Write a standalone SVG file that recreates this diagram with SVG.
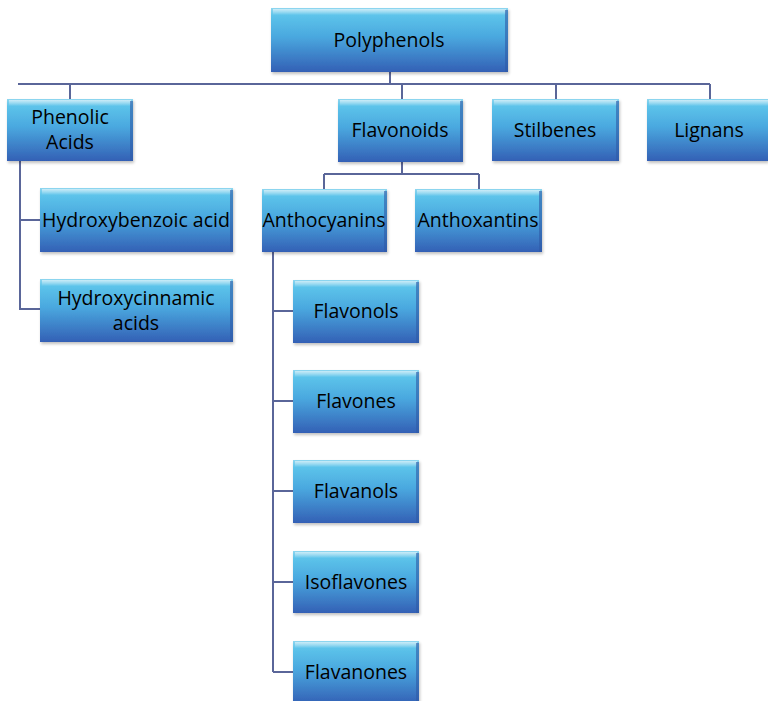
<svg xmlns="http://www.w3.org/2000/svg" width="768" height="701" viewBox="0 0 768 701">
<defs>
<linearGradient id="g" x1="0" y1="0" x2="0" y2="1">
<stop offset="0" stop-color="#8fd6ef"/>
<stop offset="0.12" stop-color="#5cc3ea"/>
<stop offset="0.45" stop-color="#4aa8df"/>
<stop offset="1" stop-color="#3360b5"/>
</linearGradient>
<linearGradient id="hl" x1="0" y1="0" x2="0" y2="1">
<stop offset="0" stop-color="#ffffff" stop-opacity="0.55"/>
<stop offset="1" stop-color="#ffffff" stop-opacity="0"/>
</linearGradient>
<filter id="sh" x="-5%" y="-5%" width="115%" height="120%">
<feGaussianBlur in="SourceAlpha" stdDeviation="1.5"/>
<feOffset dx="1" dy="2" result="b"/>
<feComponentTransfer><feFuncA type="linear" slope="0.25"/></feComponentTransfer>
<feMerge><feMergeNode/><feMergeNode in="SourceGraphic"/></feMerge>
</filter>
</defs>
<style>
.box{fill:url(#g);filter:url(#sh)}
.hi{fill:url(#hl)}
.edge{fill:#2f5aa6;opacity:0.6}
.t{font-family:"Open Sans","Noto Sans","Liberation Sans",sans-serif;font-size:19.5px;fill:#000;text-anchor:middle}
.c{fill:none;stroke:#5a6699;stroke-width:2}
</style>
<g id="connectors">
<path class="c" d="M390 72V84M18 84H710M70 84V99M402 84V99M556 84V99M710 84V99"/>
<path class="c" d="M20 161V310M20 220H40M20 309H40"/>
<path class="c" d="M402 162V174M324 174H479M324 174V189M479 174V189"/>
<path class="c" d="M273 252V672M273 311H293M273 401H293M273 491H293M273 582H293M273 672H293"/>
</g>
<g id="polyphenols"><rect class="box" x="271" y="8" width="237" height="64"/><rect class="hi" x="273" y="9" width="233" height="6"/><rect class="edge" x="505" y="10" width="3" height="62"/><text class="t" x="389" y="47">Polyphenols</text></g>
<g id="phenolic-acids"><rect class="box" x="7" y="99" width="126" height="62"/><rect class="hi" x="9" y="100" width="122" height="6"/><rect class="edge" x="130" y="101" width="3" height="60"/><text class="t" x="70" y="124">Phenolic</text><text class="t" x="70" y="149">Acids</text></g>
<g id="flavonoids"><rect class="box" x="338" y="99" width="125" height="63"/><rect class="hi" x="340" y="100" width="121" height="6"/><rect class="edge" x="460" y="101" width="3" height="61"/><text class="t" x="400" y="137">Flavonoids</text></g>
<g id="stilbenes"><rect class="box" x="492" y="99" width="127" height="62"/><rect class="hi" x="494" y="100" width="123" height="6"/><rect class="edge" x="616" y="101" width="3" height="60"/><text class="t" x="555" y="137">Stilbenes</text></g>
<g id="lignans"><rect class="box" x="647" y="99" width="121" height="62"/><rect class="hi" x="649" y="100" width="119" height="6"/><text class="t" x="709" y="137">Lignans</text></g>
<g id="hydroxybenzoic"><rect class="box" x="40" y="188" width="193" height="64"/><rect class="hi" x="42" y="189" width="189" height="6"/><rect class="edge" x="230" y="190" width="3" height="62"/><text class="t" x="136" y="227">Hydroxybenzoic acid</text></g>
<g id="hydroxycinnamic"><rect class="box" x="40" y="279" width="193" height="63"/><rect class="hi" x="42" y="280" width="189" height="6"/><rect class="edge" x="230" y="281" width="3" height="61"/><text class="t" x="136" y="305">Hydroxycinnamic</text><text class="t" x="136" y="330">acids</text></g>
<g id="anthocyanins"><rect class="box" x="262" y="189" width="125" height="63"/><rect class="hi" x="264" y="190" width="121" height="6"/><rect class="edge" x="384" y="191" width="3" height="61"/><text class="t" x="324" y="227">Anthocyanins</text></g>
<g id="anthoxantins"><rect class="box" x="415" y="189" width="127" height="63"/><rect class="hi" x="417" y="190" width="123" height="6"/><rect class="edge" x="539" y="191" width="3" height="61"/><text class="t" x="478" y="227">Anthoxantins</text></g>
<g id="flavonols"><rect class="box" x="293" y="280" width="126" height="63"/><rect class="hi" x="295" y="281" width="122" height="6"/><rect class="edge" x="416" y="282" width="3" height="61"/><text class="t" x="356" y="318">Flavonols</text></g>
<g id="flavones"><rect class="box" x="293" y="370" width="126" height="63"/><rect class="hi" x="295" y="371" width="122" height="6"/><rect class="edge" x="416" y="372" width="3" height="61"/><text class="t" x="356" y="408">Flavones</text></g>
<g id="flavanols"><rect class="box" x="293" y="460" width="126" height="63"/><rect class="hi" x="295" y="461" width="122" height="6"/><rect class="edge" x="416" y="462" width="3" height="61"/><text class="t" x="356" y="498">Flavanols</text></g>
<g id="isoflavones"><rect class="box" x="293" y="551" width="126" height="62"/><rect class="hi" x="295" y="552" width="122" height="6"/><rect class="edge" x="416" y="553" width="3" height="60"/><text class="t" x="356" y="589">Isoflavones</text></g>
<g id="flavanones"><rect class="box" x="293" y="641" width="126" height="63"/><rect class="hi" x="295" y="642" width="122" height="6"/><rect class="edge" x="416" y="643" width="3" height="61"/><text class="t" x="356" y="679">Flavanones</text></g>
</svg>
